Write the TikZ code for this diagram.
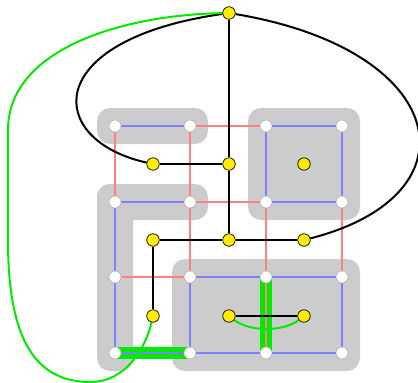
\documentclass[tikz,border=0pt]{standalone}
\usetikzlibrary{backgrounds}
\pgfdeclarelayer{regions}
\pgfdeclarelayer{edges}
\pgfsetlayers{regions,edges,main}
\definecolor{regiongray}{RGB}{204,204,204}
\definecolor{edgeblue}{RGB}{128,128,255}
\definecolor{edgered}{RGB}{255,128,128}
\definecolor{dualgreen}{RGB}{0,235,0}
\definecolor{dualyellow}{RGB}{255,236,0}
\tikzset{
  vert/.style={circle,fill=white,draw=black!30,line width=0.6pt,inner sep=0pt,minimum size=12pt},
  dvert/.style={circle,fill=dualyellow,draw=black,line width=0.7pt,inner sep=0pt,minimum size=12.5pt},
  region/.style={fill=regiongray,rounded corners=13pt},
  bedge/.style={draw=edgeblue,line width=2pt},
  redge/.style={draw=edgered,line width=2pt},
  dedge/.style={draw=black,line width=2pt},
  gedge/.style={draw=dualgreen,line width=2pt},
  gband/.style={draw=dualgreen,line width=12pt},
}
\begin{document}
\begin{tikzpicture}[x=1pt,y=-1pt]
\useasboundingbox (0,0) rectangle (418,383);

% primal vertices
\foreach \r/\y in {1/126,2/202,3/277,4/353}
  \foreach \c/\x in {1/115,2/190,3/266,4/342}
    \node[vert] (w\r\c) at (\x,\y) {};

% dual vertices
\node[dvert] (t) at (229,13) {};
\foreach \n/\x in {1/153,2/229,3/304} {
  \node[dvert] (a\n) at (\x,164) {};
  \node[dvert] (b\n) at (\x,240) {};
  \node[dvert] (c\n) at (\x,316) {};
}

\begin{pgfonlayer}{regions}
  \fill[region] (97,108) rectangle (208,144);
  \fill[region] (248,108) rectangle (360,220);
  \fill[region] (97,184) rectangle (208,220);
  \fill[region] (97,184) rectangle (133,371);
  \fill[region] (172,259) rectangle (360,371);
\end{pgfonlayer}

\begin{pgfonlayer}{edges}
  % highlighted edges
  \draw[gband] (w41.center) -- (w42.center);
  \draw[gband] (w33.center) -- (w43.center);
  % blue edges
  \draw[bedge] (w11) -- (w12);
  \draw[bedge] (w13) -- (w14) -- (w24) -- (w23) -- (w13);
  \draw[bedge] (w22) -- (w21);
  \draw[bedge] (w21) -- (w31);
  \draw[bedge] (w31) -- (w41);
  \draw[bedge] (w41) -- (w42);
  \draw[bedge] (w32) -- (w33);
  \draw[bedge] (w33) -- (w34);
  \draw[bedge] (w34) -- (w44);
  \draw[bedge] (w44) -- (w43);
  \draw[bedge] (w43) -- (w42);
  \draw[bedge] (w42) -- (w32);
  % red edges
  \draw[redge] (w11) -- (w21);
  \draw[redge] (w12) -- (w22);
  \draw[redge] (w12) -- (w13);
  \draw[redge] (w22) -- (w23);
  \draw[redge] (w22) -- (w32);
  \draw[redge] (w31) -- (w32);
  \draw[redge] (w23) -- (w33);
  \draw[redge] (w24) -- (w34);
  \draw[redge] (w33) -- (w43);
  % dual edges
  \draw[dedge] (t) -- (a2);
  \draw[dedge] (a1) -- (a2);
  \draw[dedge] (a2) -- (b2);
  \draw[dedge] (b1) -- (b2);
  \draw[dedge] (b2) -- (b3);
  \draw[dedge] (b1) -- (c1);
  \draw[dedge] (c2) -- (c3);
  \draw[dedge] (t) .. controls (40,40) and (45,140) .. (a1);
  \draw[dedge] (t) .. controls (450,50) and (480,195) .. (b3);
  \draw[gedge] (c2) .. controls (250,332) and (283,332) .. (c3);
  \draw[gedge] (t) .. controls (120,15) and (8,50) .. (8,130)
     -- (8,240) .. controls (8,330) and (30,382) .. (90,382)
     .. controls (125,382) and (145,350) .. (c1);
\end{pgfonlayer}
\end{tikzpicture}
\end{document}
